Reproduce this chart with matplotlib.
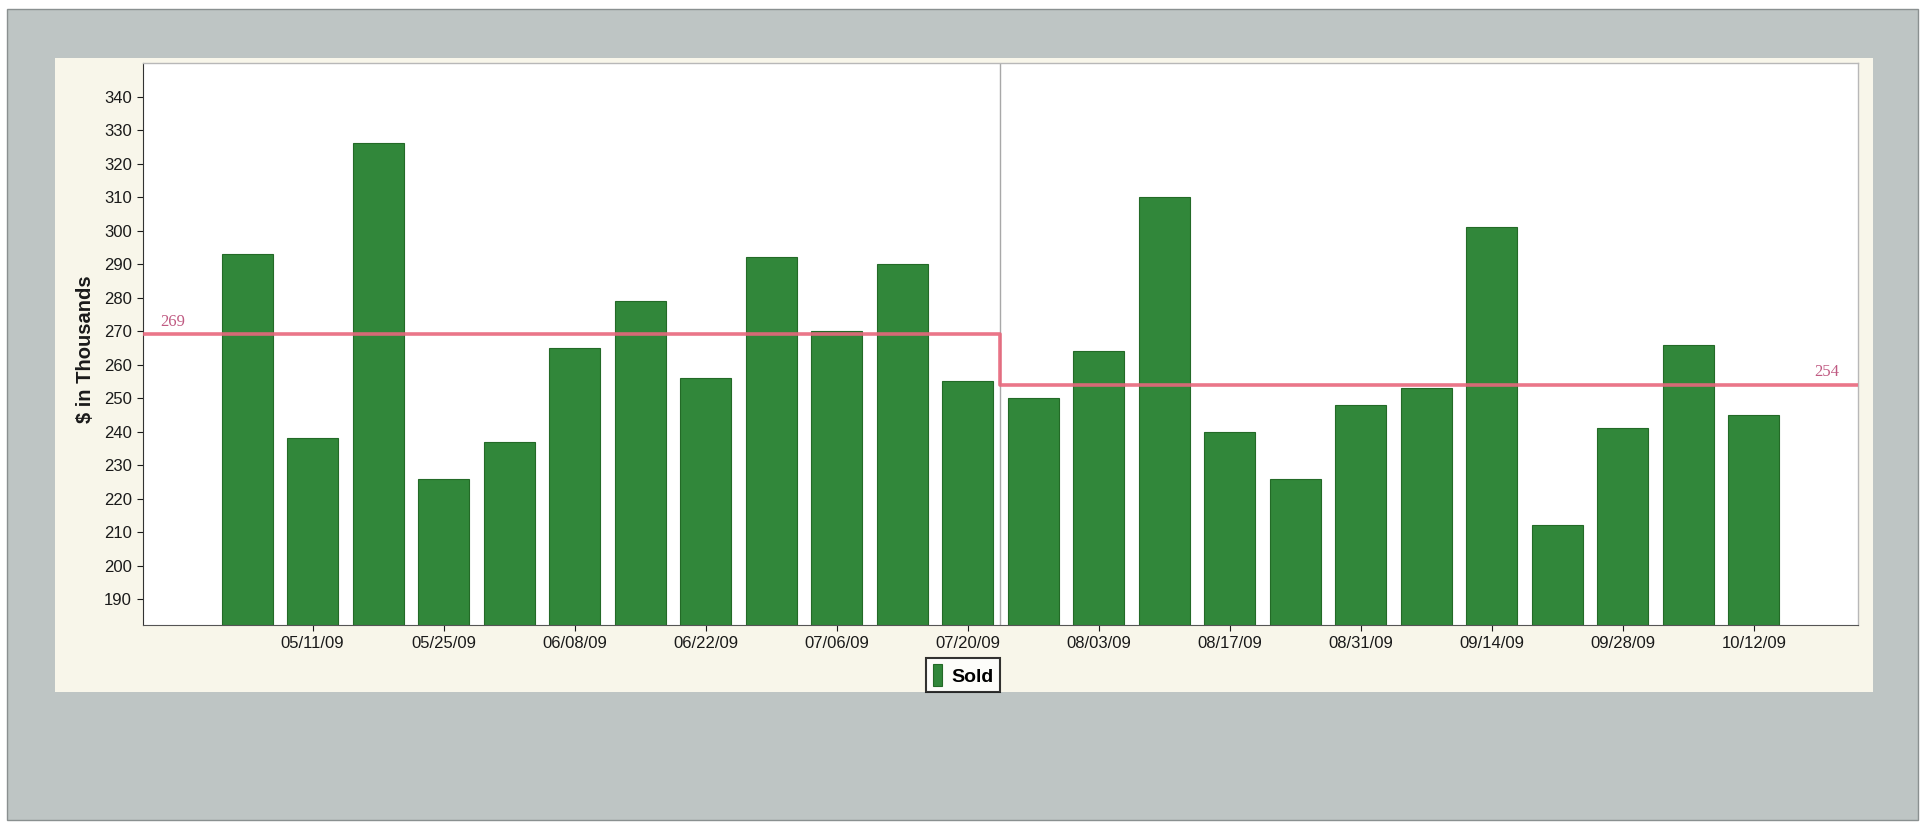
import matplotlib
matplotlib.use('Agg')
import matplotlib.pyplot as plt
from matplotlib.patches import Rectangle
import numpy as np

# weekly sold values ($ thousands)
weeks = ['05/04/09', '05/11/09', '05/18/09', '05/25/09', '06/01/09', '06/08/09',
         '06/15/09', '06/22/09', '06/29/09', '07/06/09', '07/13/09', '07/20/09',
         '07/27/09', '08/03/09', '08/10/09', '08/17/09', '08/24/09', '08/31/09',
         '09/07/09', '09/14/09', '09/21/09', '09/28/09', '10/05/09', '10/12/09']
sold = [293, 238, 326, 226, 237, 265, 279, 256, 292, 270, 290, 255,
        250, 264, 310, 240, 226, 248, 253, 301, 212, 241, 266, 245]

# period averages
avg_left = 269
avg_right = 254
split = 11.5

plt.rcParams['font.family'] = ['Liberation Sans', 'DejaVu Sans']

fig = plt.figure(figsize=(19.21, 8.24), dpi=100)
fig.patch.set_facecolor('white')

W, H = 1921, 824
# scanned page background: grey card with cream panel
fig.patches.append(Rectangle((7 / W, 1 - 820 / H), (1918 - 7) / W, (820 - 9) / H,
                             transform=fig.transFigure, facecolor='#bec5c4',
                             edgecolor='#8a9090', linewidth=1.0, zorder=-10))
fig.patches.append(Rectangle((55 / W, 1 - 692 / H), (1873 - 55) / W, (692 - 58) / H,
                             transform=fig.transFigure, facecolor='#f8f6ea',
                             edgecolor='none', zorder=-9))

ax = fig.add_axes([143 / W, 1 - 625 / H, (1858 - 143) / W, (625 - 63) / H])
ax.set_facecolor('white')

x = np.arange(len(sold))
bars = ax.bar(x, sold, width=0.78, color='#31873a', edgecolor='#236a27',
              linewidth=0.8, label='Sold', zorder=2)

xmin, xmax = -1.59, len(sold) - 1 + 1.59
ax.set_xlim(xmin, xmax)
ax.set_ylim(182.3, 350)

# period separator
ax.axvline(split, color='#a8a8a8', linewidth=1.0, zorder=1)

# average step line
ax.plot([xmin, split, split, xmax], [avg_left, avg_left, avg_right, avg_right],
        color='#e8677c', linewidth=2.6, zorder=3, alpha=0.9)
ax.text(xmin + 0.27, avg_left + 1.3, str(avg_left), color='#c05a82',
        fontsize=12, family=['Liberation Serif', 'DejaVu Serif'], va='bottom', ha='left')
ax.text(xmax - 0.28, avg_right + 1.3, str(avg_right), color='#c05a82',
        fontsize=12, family=['Liberation Serif', 'DejaVu Serif'], va='bottom', ha='right')

ax.set_yticks(np.arange(190, 341, 10))
ax.set_xticks(x[1::2])
ax.set_xticklabels(weeks[1::2])
ax.tick_params(axis='both', labelsize=12, colors='#1a1a1a', length=4, width=0.8, pad=4)

for side in ['top', 'right']:
    ax.spines[side].set_color('#b8b8b8')
    ax.spines[side].set_linewidth(1.0)
ax.spines['left'].set_color('#333333')
ax.spines['bottom'].set_color('#555555')

ax.set_ylabel('$ in Thousands', fontsize=14.5, fontweight='bold', color='#1a1a1a')
ax.yaxis.set_label_coords(-0.028, 0.491)

leg = fig.legend(handles=[bars], labels=['Sold'], loc='center',
                 bbox_to_anchor=(963 / W, 1 - 675 / H), frameon=True, fancybox=False,
                 handlelength=0.5, handleheight=1.3, handletextpad=0.45,
                 borderpad=0.35, prop={'weight': 'bold', 'size': 14})
leg.get_frame().set_edgecolor('black')
leg.get_frame().set_linewidth(1.5)
leg.get_frame().set_facecolor('white')

fig.savefig('out.png', dpi=100)
